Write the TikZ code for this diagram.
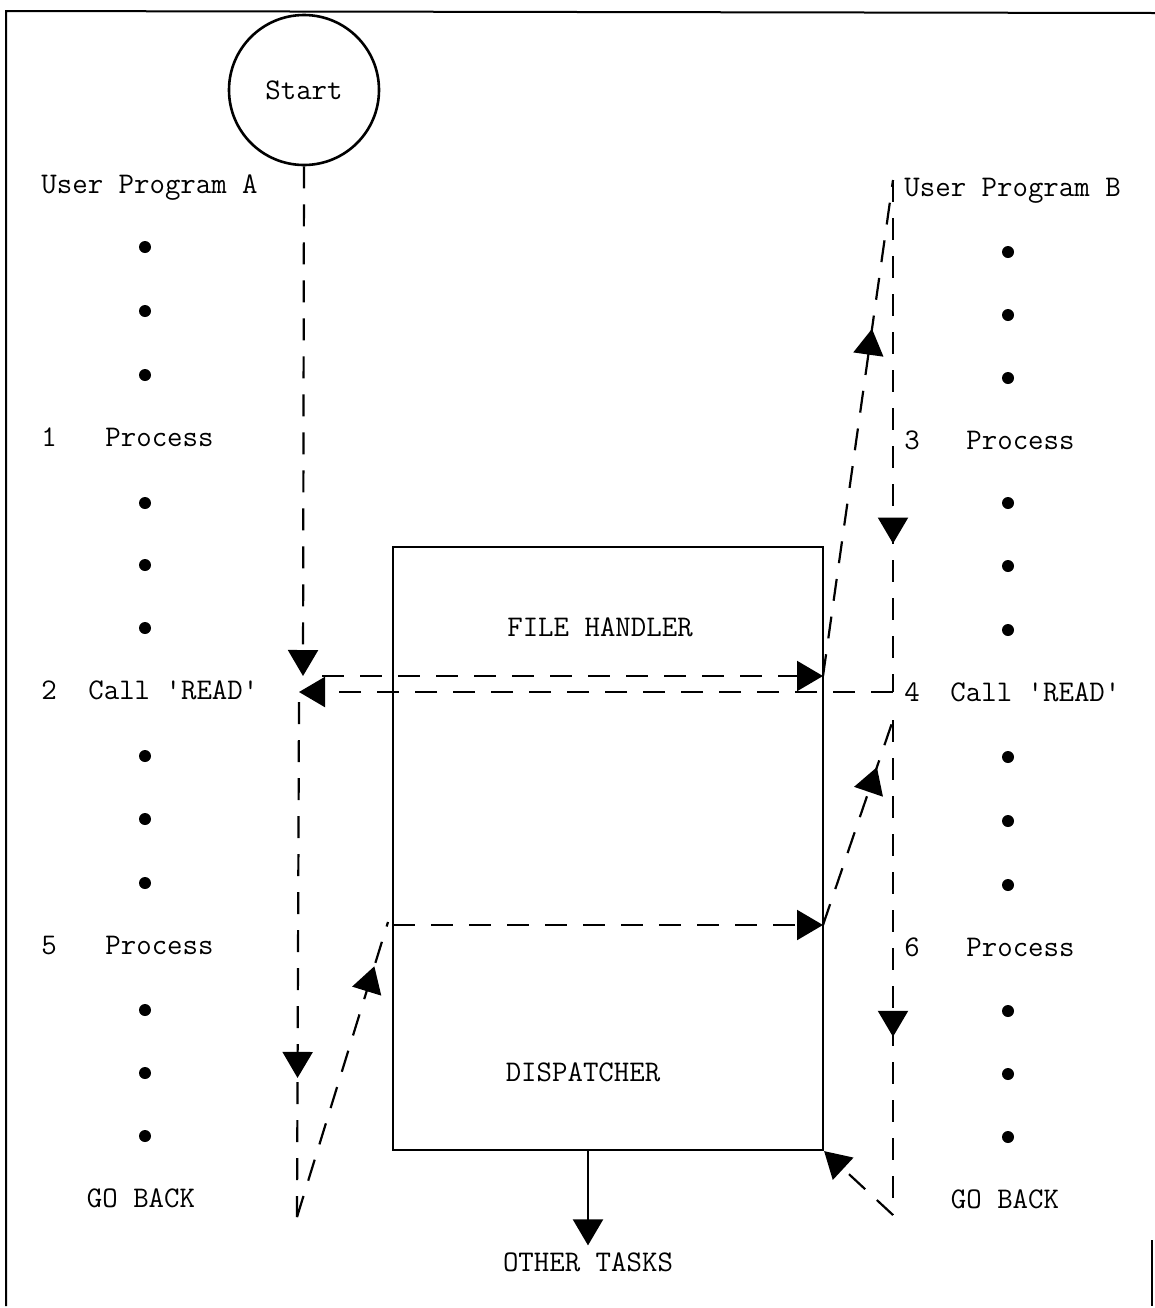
\documentclass[tikz,border=0pt]{standalone}
\usetikzlibrary{arrows.meta,decorations.markings}

\begin{document}
\begin{tikzpicture}[x=0.5pt, y=-0.5pt,
  font=\ttfamily\fontsize{15}{17}\selectfont,
  lbl/.style={anchor=base west, inner sep=0pt},
  flow/.style={line width=1.1pt, dash pattern=on 11pt off 8pt},
  tip/.style={-{Triangle[length=13pt,width=15pt]}},
  midtip/.style={postaction={decorate, decoration={markings,
      mark=at position #1 with {\arrow{Triangle[length=13pt,width=15pt]}}}}},
]
\useasboundingbox (0,0) rectangle (1155,1308);
\draw[line width=1pt] (6,1306) -- (6,11) -- (1155,13);
\draw[line width=1pt] (1152,1240) -- (1152,1306);

\node[draw, circle, line width=1.3pt, minimum size=75pt, inner sep=0pt] (start) at (304,90) {Start};

\node[draw, line width=1.1pt, minimum width=215pt, minimum height=301.5pt, inner sep=0pt] (os) at (608,848.5) {};
\node (fh) at (600,627) {FILE HANDLER};
\node (disp) at (583,1072) {DISPATCHER};
\node (other) at (588,1262) {OTHER TASKS};
\draw[line width=1.1pt, tip] (os.south -| other) -- (other.north);

\node[lbl] (ua) at (41,193) {User Program A};
\node[lbl] (n1) at (41,446) {1};
\node[lbl] (p1) at (105,446) {Process};
\node[lbl] (n2) at (41,699) {2};
\node[lbl] (c2) at (88,699) {Call \textquotesingle READ\textquotesingle};
\node[lbl] (n5) at (41,954) {5};
\node[lbl] (p5) at (105,954) {Process};
\node[anchor=base] (gba) at (141,1207) {GO BACK};
\foreach \y in {247,311,375,503,565,628,756,819,883,1010,1073,1136}
  \fill (145,\y) circle (3pt);

\node[lbl] (ub) at (904,196) {User Program B};
\node[lbl] (n3) at (904,449) {3};
\node[lbl] (p3) at (966,449) {Process};
\node[lbl] (n4) at (904,701) {4};
\node[lbl] (c4) at (950,701) {Call \textquotesingle READ\textquotesingle};
\node[lbl] (n6) at (904,956) {6};
\node[lbl] (p6) at (966,956) {Process};
\node[anchor=base] (gbb) at (1005,1208) {GO BACK};
\foreach \y in {252,315,378,503,566,630,757,821,885,1011,1074,1137}
  \fill (1008,\y) circle (3pt);

\coordinate (a1) at (303,676);
\coordinate (a1r) at (322,676);
\coordinate (fhin) at (823,676);
\coordinate (b0) at (893,180);
\coordinate (b1) at (893,692);
\coordinate (a2) at (299,692);
\coordinate (a2d) at (299,702);
\coordinate (a3) at (297,1217);
\coordinate (d0) at (388,922);
\coordinate (d0r) at (393,925);
\coordinate (d1) at (823,925);
\coordinate (b2) at (893,720);
\coordinate (b3) at (893,1215);

\draw[flow, tip] (start.south) -- (a1);
\draw[flow, tip] (a1r) -- (fhin);
\draw[flow, midtip=0.70] (fhin) -- (b0);
\draw[flow, midtip=0.71] (b0) -- (b1);
\draw[flow, tip] (b1) -- (a2);
\draw[flow, midtip=0.73] (a2d) -- (a3);
\draw[flow, midtip=0.85] (a3) -- (d0);
\draw[flow, tip] (d0r) -- (d1);
\draw[flow, midtip=0.77] (d1) -- (b2);
\draw[flow, midtip=0.64] (b2) -- (b3);
\draw[flow, tip] (b3) -- (os.south east);
\end{tikzpicture}
\end{document}
